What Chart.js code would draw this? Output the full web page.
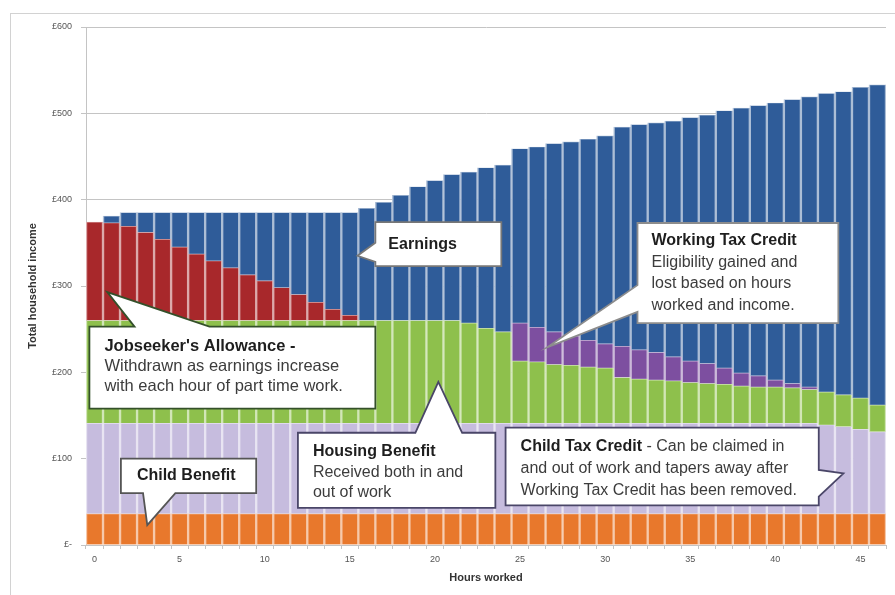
<!DOCTYPE html>
<html lang="en">
<head>
    <meta charset="UTF-8">
    <title>Total household income by hours worked</title>
    <script src="https://cdn.jsdelivr.net/npm/chart.js"></script>
    <style>
        body { margin: 0; background: #fff; }
        #wrap { position: relative; width: 895px; height: 595px; overflow: hidden; }
        #frame { position: absolute; left: 10px; top: 13px; width: 900px; height: 600px;
                 border-left: 1.5px solid #d2d2d2; border-top: 1.5px solid #d2d2d2; }
        #chartBox { position: absolute; left: 0; top: 0; width: 895px; height: 595px; }
    </style>
</head>
<body>
<div id="wrap">
    <div id="frame"></div>
    <div id="chartBox"><canvas id="incomeChart"></canvas></div>
</div>

<script>
    // hours worked per week (x categories)
    const hours = [0, 1, 2, 3, 4, 5, 6, 7, 8, 9, 10, 11, 12, 13, 14, 15, 16, 17, 18, 19, 20, 21, 22, 23,
                   24, 25, 26, 27, 28, 29, 30, 31, 32, 33, 34, 35, 36, 37, 38, 39, 40, 41, 42, 43, 44, 45, 46];

    const yTickLabels = ['£-', '£100', '£200', '£300', '£400', '£500', '£600'];

    // weekly amounts in £ (bottom of stack first)
    const childBenefit = [36, 36, 36, 36, 36, 36, 36, 36, 36, 36, 36, 36, 36, 36, 36, 36, 36, 36, 36, 36, 36, 36, 36, 36,
                          36, 36, 36, 36, 36, 36, 36, 36, 36, 36, 36, 36, 36, 36, 36, 36, 36, 36, 36, 36, 36, 36, 36];
    const childTaxCredit = [105, 105, 105, 105, 105, 105, 105, 105, 105, 105, 105, 105, 105, 105, 105, 105, 105, 105, 105, 105, 105, 105, 105, 105,
                            105, 105, 105, 105, 105, 105, 105, 105, 105, 105, 105, 105, 105, 105, 105, 105, 105, 105, 105, 103, 101, 98, 95];
    const housingBenefit = [119, 119, 119, 119, 119, 119, 119, 119, 119, 119, 119, 119, 119, 119, 119, 119, 119, 119, 119, 119, 119, 119, 116, 110,
                            106, 72, 71, 68, 67, 65, 64, 53, 51, 50, 49, 47, 46, 45, 43, 42, 42, 41, 39, 38, 37, 36, 31];
    const workingTaxCredit = [0, 0, 0, 0, 0, 0, 0, 0, 0, 0, 0, 0, 0, 0, 0, 0, 0, 0, 0, 0, 0, 0, 0, 0,
                              0, 44, 40, 38, 34, 31, 28, 36, 34, 32, 28, 25, 23, 19, 15, 13, 8, 5, 3, 0, 0, 0, 0];
    const jobseekers = [114, 113, 109, 102, 94, 85, 77, 69, 61, 53, 46, 38, 30, 21, 13, 6, 0, 0, 0, 0, 0, 0, 0, 0,
                        0, 0, 0, 0, 0, 0, 0, 0, 0, 0, 0, 0, 0, 0, 0, 0, 0, 0, 0, 0, 0, 0, 0];
    const earnings = [0, 8, 16, 23, 31, 40, 48, 56, 64, 72, 79, 87, 95, 104, 112, 119, 130, 137, 145, 155, 162, 169, 175, 186,
                      193, 202, 209, 218, 225, 233, 241, 254, 261, 266, 273, 282, 288, 298, 307, 313, 321, 329, 336, 346, 351, 360, 371];

    const FONT = '"Liberation Sans", Arial, sans-serif';

    // mix a hex colour with white, used for the light seams between bars
    function tint(hex, amt) {
        const n = parseInt(hex.slice(1), 16);
        const r = (n >> 16) & 255, g = (n >> 8) & 255, b = n & 255;
        const m = c => Math.round(c + (255 - c) * amt);
        return `rgb(${m(r)}, ${m(g)}, ${m(b)})`;
    }

    function series(label, data, color) {
        return {
            label,
            data,
            backgroundColor: color,
            borderColor: tint(color, 0.6),
            borderWidth: { top: 0.7, bottom: 0.7, left: 1.5, right: 1.5 },
            borderSkipped: false,
            barPercentage: 1,
            categoryPercentage: 1
        };
    }

    // callout boxes: box = [hourLeft, hourRight, £top, £bottom]
    const callouts = [
        {
            box: [-0.3, 16.5, 253, 158], border: '#34502a', size: 16.5, pad: 15, first: 20, lead: 20,
            pointer: { side: 'top', from: 2.35, to: 6.75, tip: [0.75, 293] },
            lines: [[["Jobseeker's Allowance -", true]], [['Withdrawn as earnings increase']], [['with each hour of part time work.']]]
        },
        {
            box: [16.5, 23.9, 374, 323], border: '#777777', size: 16, pad: 13, first: 22, lead: 20,
            pointer: { side: 'left', from: 350, to: 328, tip: [15.45, 335] },
            lines: [[['Earnings', true]]]
        },
        {
            box: [31.9, 43.7, 373, 257], border: '#8c8c8c', size: 16, pad: 14, first: 18, lead: 21.5,
            pointer: { side: 'left', from: 301, to: 270, tip: [26.6, 229] },
            lines: [[['Working Tax Credit', true]], [['Eligibility gained and']], [['lost based on hours']], [['worked and income.']]]
        },
        {
            box: [11.95, 23.55, 130, 43], border: '#4a4668', size: 16, pad: 15, first: 19, lead: 20.5,
            pointer: { side: 'top', from: 18.85, to: 21.6, tip: [20.2, 189] },
            lines: [[['Housing Benefit', true]], [['Received both in and']], [['out of work']]]
        },
        {
            box: [24.15, 42.55, 136, 46], border: '#4a4668', size: 16, pad: 15, first: 19, lead: 22,
            pointer: { side: 'right', from: 87, to: 56, tip: [44.0, 83] },
            lines: [[['Child Tax Credit', true], [' - Can be claimed in']], [['and out of work and tapers away after']], [['Working Tax Credit has been removed.']]]
        },
        {
            box: [1.55, 9.5, 100, 60], border: '#555555', size: 16, pad: 16, first: 17, lead: 20,
            pointer: { side: 'bottom', from: 2.85, to: 4.75, tip: [3.1, 23] },
            lines: [[['Child Benefit', true]]]
        }
    ];

    const calloutPlugin = {
        id: 'callouts',
        afterDatasetsDraw(chart) {
            const { ctx, scales: { x, y } } = chart;
            callouts.forEach(c => {
                const x0 = x.getPixelForValue(c.box[0]), x1 = x.getPixelForValue(c.box[1]);
                const y0 = y.getPixelForValue(c.box[2]), y1 = y.getPixelForValue(c.box[3]);
                const p = c.pointer;
                const tx = x.getPixelForValue(p.tip[0]), ty = y.getPixelForValue(p.tip[1]);
                let a, b;
                if (p.side === 'top' || p.side === 'bottom') {
                    a = x.getPixelForValue(p.from); b = x.getPixelForValue(p.to);
                } else {
                    a = y.getPixelForValue(p.from); b = y.getPixelForValue(p.to);
                }
                const lo = Math.min(a, b), hi = Math.max(a, b);

                ctx.save();
                ctx.beginPath();
                ctx.moveTo(x0, y0);
                if (p.side === 'top') { ctx.lineTo(lo, y0); ctx.lineTo(tx, ty); ctx.lineTo(hi, y0); }
                ctx.lineTo(x1, y0);
                if (p.side === 'right') { ctx.lineTo(x1, lo); ctx.lineTo(tx, ty); ctx.lineTo(x1, hi); }
                ctx.lineTo(x1, y1);
                if (p.side === 'bottom') { ctx.lineTo(hi, y1); ctx.lineTo(tx, ty); ctx.lineTo(lo, y1); }
                ctx.lineTo(x0, y1);
                if (p.side === 'left') { ctx.lineTo(x0, hi); ctx.lineTo(tx, ty); ctx.lineTo(x0, lo); }
                ctx.closePath();
                ctx.fillStyle = '#ffffff';
                ctx.fill();
                ctx.lineWidth = 1.8;
                ctx.strokeStyle = c.border;
                ctx.lineJoin = 'miter';
                ctx.stroke();

                ctx.textBaseline = 'middle';
                ctx.textAlign = 'left';
                c.lines.forEach((line, i) => {
                    let cx = x0 + c.pad;
                    const cy = y0 + c.first + i * c.lead;
                    line.forEach(([text, bold]) => {
                        ctx.font = (bold ? 'bold ' : '') + c.size + 'px ' + FONT;
                        ctx.fillStyle = bold ? '#1e1e1e' : '#3c3c3c';
                        ctx.fillText(text, cx, cy);
                        cx += ctx.measureText(text).width;
                    });
                });
                ctx.restore();
            });
        }
    };

    const ctx = document.getElementById('incomeChart').getContext('2d');
    new Chart(ctx, {
        type: 'bar',
        data: {
            labels: hours,
            datasets: [
                series('Child Benefit', childBenefit, '#e8782c'),
                series('Child Tax Credit', childTaxCredit, '#c6bcde'),
                series('Housing Benefit', housingBenefit, '#8ec04c'),
                series('Working Tax Credit', workingTaxCredit, '#7d4fa0'),
                series("Jobseeker's Allowance", jobseekers, '#a8282b'),
                series('Earnings', earnings, '#2f5c99')
            ]
        },
        options: {
            responsive: true,
            maintainAspectRatio: false,
            animation: false,
            layout: { padding: { left: 0, right: 9, top: 27, bottom: 0 } },
            plugins: {
                legend: { display: false },
                tooltip: { enabled: false }
            },
            scales: {
                x: {
                    stacked: true,
                    grid: { drawOnChartArea: false, tickLength: 4, color: '#c4c4c4' },
                    border: { color: '#c4c4c4' },
                    ticks: {
                        autoSkip: false,
                        maxRotation: 0,
                        padding: 5,
                        color: '#555',
                        font: { family: FONT, size: 9 },
                        callback: (v, i) => (i % 5 === 0 ? String(hours[i]) : '')
                    },
                    title: {
                        display: true,
                        text: 'Hours worked',
                        color: '#333',
                        font: { family: FONT, size: 11, weight: 'bold' },
                        padding: { top: 0, bottom: 10 }
                    },
                    afterFit: s => { s.height = 50; }
                },
                y: {
                    stacked: true,
                    min: 0,
                    max: 600,
                    grid: { color: '#c4c4c4', tickLength: 5 },
                    border: { color: '#c4c4c4' },
                    ticks: {
                        stepSize: 100,
                        padding: 9,
                        color: '#555',
                        font: { family: FONT, size: 9 },
                        callback: (v, i) => yTickLabels[i]
                    },
                    title: {
                        display: true,
                        text: 'Total household income',
                        color: '#333',
                        font: { family: FONT, size: 11, weight: 'bold' },
                        padding: { top: 26, bottom: 0 }
                    },
                    afterFit: s => { s.width = 86; }
                }
            }
        },
        plugins: [calloutPlugin]
    });
</script>
</body>
</html>
